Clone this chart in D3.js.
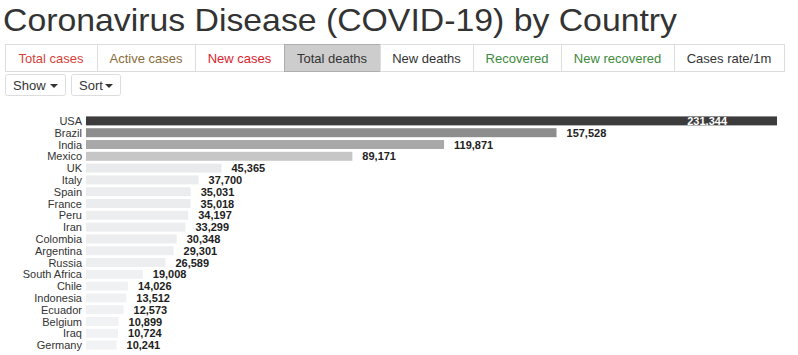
<!DOCTYPE html>
<html>
<head>
<meta charset="utf-8">
<script src="https://cdn.jsdelivr.net/npm/d3@7"></script>
<style>
  body { margin: 0; background: #fff; }
  text { font-family: Arial, "Liberation Sans", sans-serif; }
</style>
</head>
<body>
<div id="root"></div>
<script>
// data
var countries = ["USA", "Brazil", "India", "Mexico", "UK", "Italy", "Spain", "France", "Peru", "Iran",
  "Colombia", "Argentina", "Russia", "South Africa", "Chile", "Indonesia", "Ecuador", "Belgium", "Iraq", "Germany"]
var deaths = [231344, 157528, 119871, 89171, 45365, 37700, 35031, 35018, 34197, 33299,
  30348, 29301, 26589, 19008, 14026, 13512, 12573, 10899, 10724, 10241]
var tabs = ["Total cases", "Active cases", "New cases", "Total deaths", "New deaths", "Recovered", "New recovered", "Cases rate/1m"]
var tabColors = ["#d43f3a", "#8a6d3b", "#d9232e", "#333", "#333", "#3c8a3c", "#3c8a3c", "#333"]
var tabEdges = [5, 97, 195, 284, 380, 473, 561, 674, 784]
var activeTab = 3
var buttons = ["Show", "Sort"]

var width = 798, height = 355

var svg = d3.select("#root").append("svg")
  .attr("width", width)
  .attr("height", height)

// title
svg.append("text")
  .attr("x", 3).attr("y", 31)
  .attr("font-size", "32px")
  .attr("fill", "#333")
  .attr("textLength", 674)
  .attr("lengthAdjust", "spacingAndGlyphs")
  .text("Coronavirus Disease (COVID-19) by Country")

// tab bar
var tabG = svg.append("g")
tabs.forEach(function(t, i) {
  var x0 = tabEdges[i], x1 = tabEdges[i + 1]
  tabG.append("rect")
    .attr("x", x0 + 0.5).attr("y", 44.5)
    .attr("width", x1 - x0).attr("height", 27)
    .attr("fill", i === activeTab ? "#cdcdcd" : "#fff")
    .attr("stroke", i === activeTab ? "#adadad" : "#ddd")
  tabG.append("text")
    .attr("x", (x0 + x1) / 2).attr("y", 62.5)
    .attr("text-anchor", "middle")
    .attr("font-size", "13px")
    .attr("fill", tabColors[i])
    .text(t)
})

// show / sort buttons
var btnX = [[5, 65], [71, 120]]
buttons.forEach(function(b, i) {
  var x0 = btnX[i][0], x1 = btnX[i][1]
  svg.append("rect")
    .attr("x", x0 + 0.5).attr("y", 74.5)
    .attr("width", x1 - x0).attr("height", 21)
    .attr("rx", 2)
    .attr("fill", "#fff").attr("stroke", "#ddd")
  svg.append("text")
    .attr("x", x0 + 8).attr("y", 89.5)
    .attr("font-size", "13px").attr("fill", "#333")
    .text(b)
  svg.append("path")
    .attr("d", "M" + (x1 - 15) + ",84 l8,0 l-4,4 z")
    .attr("fill", "#333")
})

// bar chart
var x = d3.scaleLinear()
  .domain([0, d3.max(deaths)])
  .range([86, 777])

var y = d3.scaleBand()
  .domain(countries)
  .range([115, 351])
  .paddingInner(0.24)
  .paddingOuter(0.12)

var color = d3.scaleLinear()
  .domain([10000, 45365, 89171, 119871, 157528, 231344])
  .range(["#f1f2f4", "#e9eaeb", "#c6c6c6", "#a8a8a8", "#8d8d8d", "#3c3c3c"])
  .clamp(true)

var rows = svg.selectAll(".row")
  .data(countries)
  .enter().append("g")
  .attr("class", "row")

rows.append("rect")
  .attr("x", x(0))
  .attr("y", function(d) { return y(d) })
  .attr("width", function(d, i) { return x(deaths[i]) - x(0) })
  .attr("height", y.bandwidth())
  .attr("fill", function(d, i) { return color(deaths[i]) })

rows.append("text")
  .attr("x", 82)
  .attr("y", function(d) { return y(d) + y.bandwidth() / 2 + 4 })
  .attr("text-anchor", "end")
  .attr("font-size", "11px")
  .attr("fill", "#333")
  .text(function(d) { return d })

var fmt = d3.format(",")
rows.append("text")
  .attr("x", function(d, i) { return i === 0 ? x(deaths[i]) - 50 : x(deaths[i]) + 10 })
  .attr("y", function(d) { return y(d) + y.bandwidth() / 2 + 4 })
  .attr("text-anchor", function(d, i) { return i === 0 ? "end" : "start" })
  .attr("font-size", "11px")
  .attr("font-weight", "bold")
  .attr("fill", function(d, i) { return i === 0 ? "#fff" : "#222" })
  .text(function(d, i) { return fmt(deaths[i]) })
</script>
</body>
</html>
